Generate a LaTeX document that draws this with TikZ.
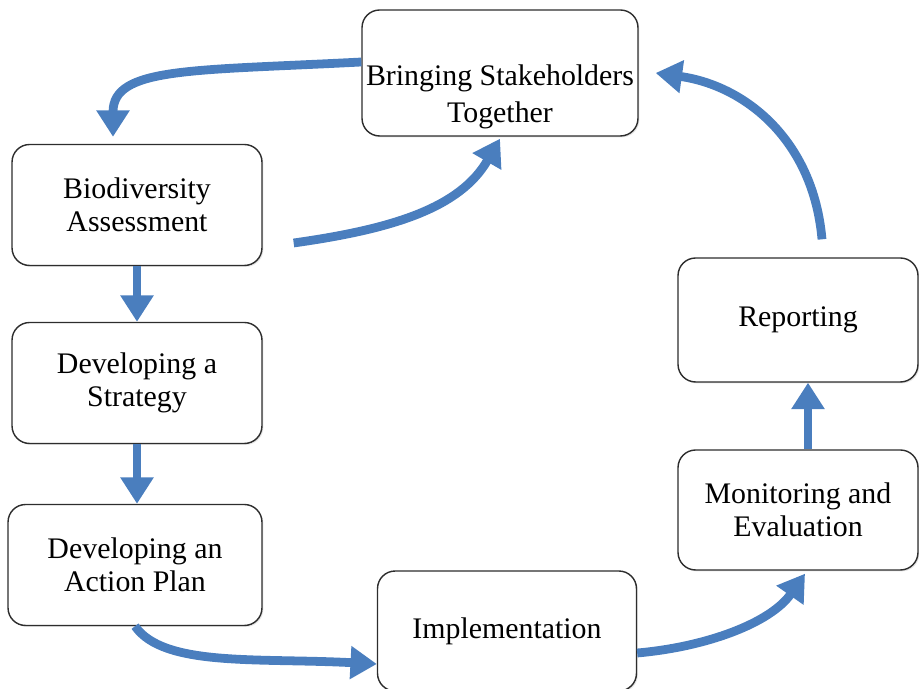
\documentclass[tikz,border=0pt]{standalone}
\usepackage{fontspec}
\setmainfont{Liberation Serif}
\usepackage{tikz}
\usetikzlibrary{arrows.meta, shadows}
\definecolor{flowblue}{RGB}{74,126,190}
\definecolor{edgegray}{RGB}{45,45,45}

\begin{document}
\begin{tikzpicture}[
  x=0.02cm, y=0.02cm,
  stage/.style={draw=edgegray, fill=white, rounded corners=10pt, line width=0.8pt,
                minimum width=5cm, minimum height=2.42cm, inner xsep=1pt,
                align=center, font=\fontsize{17}{19}\selectfont,
                drop shadow={opacity=0.2, shadow xshift=0.8pt, shadow yshift=-0.8pt}},
  flow/.style={-{Triangle[length=15pt, width=18pt]}, line width=5pt, color=flowblue}
]
\useasboundingbox (0,0) rectangle (919,689);

% Top box
\node[stage, minimum width=5.52cm, minimum height=2.52cm] (stake) at (500,616)
  {\mbox{}\\[20pt]Bringing Stakeholders\\[2pt]Together};

% Left column
\node[stage] (bio) at (137,484) {Biodiversity\\Assessment};
\node[stage] (strat) at (137,306) {Developing a\\Strategy};
\node[stage, minimum width=5.08cm] (plan) at (135,124) {Developing an\\Action Plan};

% Bottom box
\node[stage, minimum width=5.18cm, minimum height=2.4cm] (impl) at (507,58) {Implementation};

% Right column
\node[stage, minimum width=4.8cm, minimum height=2.4cm] (monit) at (798,179) {Monitoring and\\Evaluation};
\node[stage, minimum width=4.8cm, minimum height=2.48cm] (report) at (798,369) {Reporting};

% Cycle arrows
\draw[flow] ([yshift=0.22cm]stake.west) .. controls +(183:170) and +(90:70) .. ([xshift=-0.48cm, yshift=0.14cm]bio.north);
\draw[flow] ([xshift=0.62cm, yshift=-0.76cm]bio.east) .. controls +(8:100) and +(240:80) .. ([yshift=-0.04cm]stake.south);
\draw[flow] (bio.south) -- (strat.north);
\draw[flow] (strat.south) -- (plan.north -| strat.south);
\draw[flow] (plan.south) .. controls +(-55:50) and +(177:120) .. ([yshift=-0.66cm]impl.west);
\draw[flow] ([yshift=-0.44cm]impl.east) .. controls +(5:70) and +(235:60) .. ([xshift=0.14cm, yshift=-0.06cm]monit.south);
\draw[flow] ([xshift=0.2cm]monit.north) -- ([xshift=0.2cm]report.south);
\draw[flow] ([xshift=0.48cm, yshift=0.36cm]report.north) .. controls +(95:100) and +(-8:90) .. ([xshift=0.34cm]stake.east);

\end{tikzpicture}
\end{document}
